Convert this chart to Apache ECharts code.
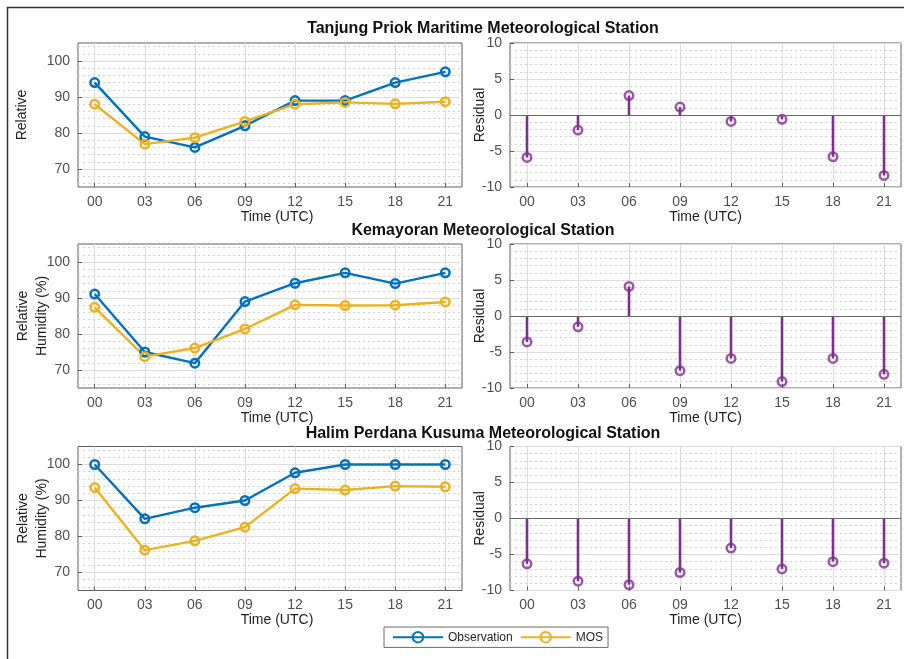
<!DOCTYPE html>
<html><head><meta charset="utf-8">
<script src="https://cdn.jsdelivr.net/npm/echarts@6/dist/echarts.min.js"></script>
<style>html,body{margin:0;padding:0;background:#fff}#c{width:904px;height:659px}</style>
</head><body><div id="c"></div><script>
// ---------- data ----------
const hours = [0, 3, 6, 9, 12, 15, 18, 21];
const hourLabels = ['00', '03', '06', '09', '12', '15', '18', '21'];
const rhTicks = [70, 80, 90, 100];
const residualTicks = [-10, -5, 0, 5, 10];
const stationTitles = [
  'Tanjung Priok Maritime Meteorological Station',
  'Kemayoran Meteorological Station',
  'Halim Perdana Kusuma Meteorological Station'
];
const seriesNames = ['Observation', 'MOS'];

const tanjungObs = [94, 79, 76, 82, 89, 89, 94, 97];
const tanjungMos = [88, 76.9, 78.7, 83.2, 88, 88.5, 88.1, 88.7];
const tanjungRes = [-5.9, -2.1, 2.7, 1.1, -0.9, -0.6, -5.8, -8.4];

const kemayoranObs = [91.1, 75, 71.9, 89, 94.1, 97, 94, 97];
const kemayoranMos = [87.4, 73.7, 76.1, 81.4, 88.1, 87.9, 88, 88.9];
const kemayoranRes = [-3.6, -1.5, 4.1, -7.6, -5.9, -9.1, -5.9, -8.1];

const halimObs = [100, 84.9, 88, 90, 97.7, 100, 100, 100];
const halimMos = [93.6, 76.2, 78.8, 82.6, 93.3, 92.9, 94, 93.8];
const halimRes = [-6.3, -8.7, -9.2, -7.5, -4.1, -7.0, -6.0, -6.2];

// ---------- styles / layout ----------
const F = '"Liberation Sans", Arial, Helvetica, sans-serif';
const C = {
  obs: '#0072BD', mos: '#EDB120', res: '#7E2F8E',
  box: '#5e5e5e', major: '#dcdcdc', minor: '#d2d2d2',
  tick: '#505050', name: '#1e1e1e', clear: 'rgba(0,0,0,0)'
};
const rows = [43, 244, 446.5];
const leftBox = { left: 78, width: 384 };
const rightBox = { left: 510, width: 391 };
const plotH = 144;

const grid = [], xAxis = [], yAxis = [], series = [];

function hourFmt(v) { const i = hours.indexOf(v); return i >= 0 ? hourLabels[i] : ''; }
function pairs(vals) { return hours.map((h, i) => [h, vals[i]]); }

function addXAxes(g, namePad) {
  const idx = xAxis.length;
  xAxis.push({
    gridIndex: g, type: 'value', min: -1, max: 22, interval: 1,
    name: 'Time (UTC)', nameLocation: 'middle', nameGap: 23, nameMoveOverlap: false,
    nameTextStyle: { fontSize: 14, color: C.name, fontFamily: F, padding: namePad },
    axisLine: { show: false, onZero: false },
    axisTick: { show: true, inside: true, length: 4, customValues: hours, lineStyle: { color: C.box } },
    axisLabel: { customValues: hours, formatter: hourFmt, margin: 8, fontSize: 14, color: C.tick, fontFamily: F },
    splitLine: { show: false }
  });
  xAxis.push({
    gridIndex: g, type: 'value', min: -1, max: 22, interval: 1,
    axisLine: { show: false, onZero: false }, axisTick: { show: false }, axisLabel: { show: false },
    splitLine: { show: true, lineStyle: { color: [C.clear, C.major, C.clear], width: 1 } }
  });
  return idx;
}

function addRhPanel(row, obs, mos, yName, nameGap) {
  const g = grid.length;
  grid.push({ left: leftBox.left, width: leftBox.width, top: rows[row], height: plotH, show: true, borderColor: C.box, borderWidth: 1, backgroundColor: '#fff' });
  const xi = addXAxes(g, [0, 0, 0, 14]);
  const yi = yAxis.length;
  yAxis.push({
    gridIndex: g, type: 'value', min: 65, max: 105, interval: 5,
    name: yName, nameLocation: 'middle', nameGap: nameGap, nameMoveOverlap: false,
    nameTextStyle: { fontSize: 14, color: C.name, fontFamily: F, lineHeight: 19 },
    axisLine: { show: false, onZero: false },
    axisTick: { show: true, inside: true, length: 4, customValues: rhTicks, lineStyle: { color: C.box } },
    axisLabel: { customValues: rhTicks, formatter: v => (v % 10 === 0 && v >= 70 && v <= 100) ? String(v) : '', margin: 8, fontSize: 14, color: C.tick, fontFamily: F },
    splitLine: { show: false }
  });
  yAxis.push({
    gridIndex: g, type: 'value', min: 65, max: 105, interval: 1,
    axisLine: { show: false, onZero: false }, axisTick: { show: false }, axisLabel: { show: false },
    splitLine: { show: true, lineStyle: { color: [C.clear, C.minor], width: 1, type: [2, 3] } }
  });
  yAxis.push({
    gridIndex: g, type: 'value', min: 65, max: 105, interval: 5,
    axisLine: { show: false, onZero: false }, axisTick: { show: false }, axisLabel: { show: false },
    splitLine: { show: true, lineStyle: { color: [C.clear, C.major], width: 1 } }
  });
  [[obs, C.obs, seriesNames[0]], [mos, C.mos, seriesNames[1]]].forEach(([vals, col, nm]) => {
    series.push({
      type: 'line', name: nm, xAxisIndex: xi, yAxisIndex: yi, data: pairs(vals),
      color: col, symbol: 'circle', symbolSize: 8.5, showSymbol: true,
      itemStyle: { color: C.clear, borderColor: col, borderWidth: 2.5 },
      lineStyle: { color: col, width: 2.4 }, z: 3, silent: true
    });
  });
}

function addResPanel(row, res) {
  const g = grid.length;
  grid.push({ left: rightBox.left, width: rightBox.width, top: rows[row], height: plotH, show: true, borderColor: C.box, borderWidth: 1, backgroundColor: '#fff' });
  const xi = addXAxes(g, 0);
  const yi = yAxis.length;
  yAxis.push({
    gridIndex: g, type: 'value', min: -10, max: 10, interval: 5,
    name: 'Residual', nameLocation: 'middle', nameGap: 20, nameMoveOverlap: false,
    nameTextStyle: { fontSize: 14, color: C.name, fontFamily: F, lineHeight: 19 },
    axisLine: { show: false, onZero: false },
    axisTick: { show: true, inside: true, length: 4, customValues: residualTicks, lineStyle: { color: C.box } },
    axisLabel: { customValues: residualTicks, margin: 8, fontSize: 14, color: C.tick, fontFamily: F },
    splitLine: { show: true, lineStyle: { color: C.major, width: 1 } },
    minorTick: { show: false, splitNumber: 5 },
    minorSplitLine: { show: true, lineStyle: { color: C.minor, width: 1, type: [2, 3] } }
  });
  series.push({
    type: 'bar', name: 'Residual', xAxisIndex: xi, yAxisIndex: yi, data: pairs(res),
    barWidth: 2.6, itemStyle: { color: C.res }, z: 2, silent: true,
    markLine: { silent: true, symbol: 'none', label: { show: false }, lineStyle: { color: '#666', width: 1, type: 'solid' }, data: [{ yAxis: 0 }] }
  });
  series.push({
    type: 'scatter', name: 'ResidualMarker', xAxisIndex: xi, yAxisIndex: yi, data: pairs(res),
    symbol: 'circle', symbolSize: 8.5,
    itemStyle: { color: C.clear, borderColor: C.res, borderWidth: 2.5 }, z: 3, silent: true
  });
}

addRhPanel(0, tanjungObs, tanjungMos, 'Relative', 46);
addResPanel(0, tanjungRes);
addRhPanel(1, kemayoranObs, kemayoranMos, 'Relative\nHumidity (%)', 26);
addResPanel(1, kemayoranRes);
addRhPanel(2, halimObs, halimMos, 'Relative\nHumidity (%)', 26);
addResPanel(2, halimRes);

const titleTops = [21, 223, 426];

const option = {
  animation: false,
  backgroundColor: '#fff',
  title: stationTitles.map((t, i) => ({
    text: t, left: 483, top: titleTops[i], textAlign: 'center', padding: 0,
    textStyle: { fontSize: 16, fontWeight: 'bold', color: '#111', fontFamily: F }
  })),
  legend: {
    data: seriesNames, left: 384, top: 627, orient: 'horizontal',
    itemWidth: 50, itemHeight: 13, itemGap: 7, padding: [4, 5, 4, 8],
    borderColor: '#6b6b6b', borderWidth: 1, backgroundColor: '#fff',
    selectedMode: false,
    textStyle: { fontSize: 12, color: '#262626', fontFamily: F }
  },
  grid, xAxis, yAxis, series,
  graphic: [
    { type: 'line', shape: { x1: 7, y1: 7.5, x2: 904, y2: 7.5 }, style: { stroke: '#333', lineWidth: 1.5 }, silent: true },
    { type: 'line', shape: { x1: 7.5, y1: 7, x2: 7.5, y2: 659 }, style: { stroke: '#333', lineWidth: 1.5 }, silent: true }
  ]
};

const chart = echarts.init(document.getElementById('c'), null, { renderer: 'canvas' });
chart.setOption(option);
</script></body></html>
